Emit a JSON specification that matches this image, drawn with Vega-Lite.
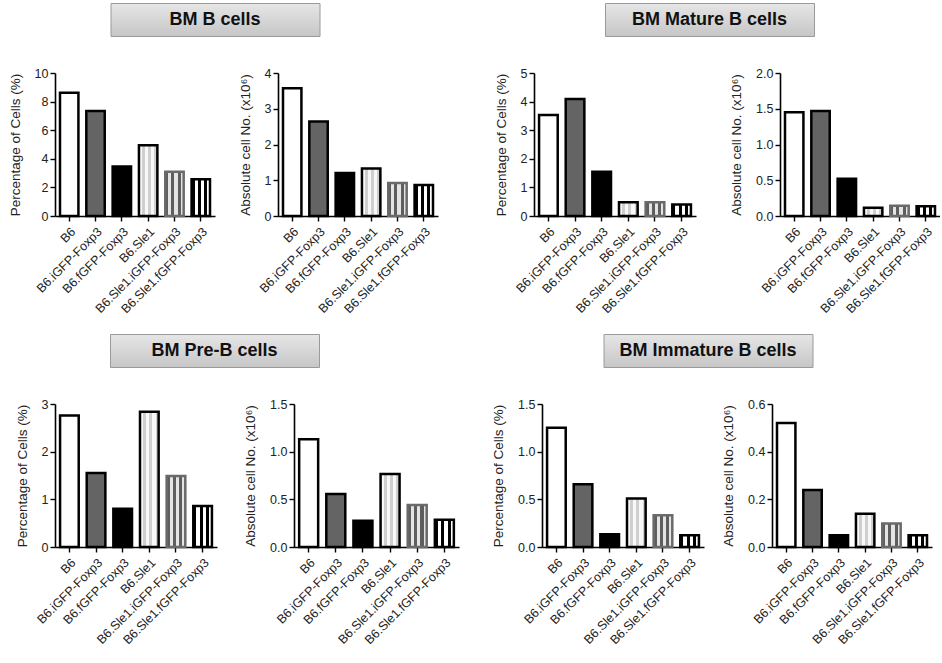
{
  "$schema": "https://vega.github.io/schema/vega-lite/v6.json",
  "padding": {"left": 8, "top": 2, "right": 0, "bottom": 0},
  "background": "white",
  "config": {
    "view": {"stroke": null},
    "font": "Liberation Sans",
    "axis": {"grid": false, "domainColor": "#000", "domainWidth": 1.6, "tickColor": "#000", "tickWidth": 1.4, "tickSize": 5, "labelFont": "Liberation Sans", "titleFont": "Liberation Sans", "titleFontWeight": "normal", "labelColor": "#222", "titleColor": "#222"},
    "axisX": {"labelAngle": -45, "labelFontSize": 12.5, "labelPadding": 4, "title": null},
    "axisY": {"labelFontSize": 12.5, "labelPadding": 2, "titleFontSize": 13.5, "titlePadding": 12}
  },
  "datasets": {
    "d": [
      {"panel": "B_pct", "strain": "B6", "value": 8.62},
      {"panel": "B_pct", "strain": "B6.iGFP-Foxp3", "value": 7.35},
      {"panel": "B_pct", "strain": "B6.fGFP-Foxp3", "value": 3.47},
      {"panel": "B_pct", "strain": "B6.Sle1", "value": 4.95},
      {"panel": "B_pct", "strain": "B6.Sle1.iGFP-Foxp3", "value": 3.1},
      {"panel": "B_pct", "strain": "B6.Sle1.fGFP-Foxp3", "value": 2.57},
      {"panel": "B_abs", "strain": "B6", "value": 3.57},
      {"panel": "B_abs", "strain": "B6.iGFP-Foxp3", "value": 2.64},
      {"panel": "B_abs", "strain": "B6.fGFP-Foxp3", "value": 1.2},
      {"panel": "B_abs", "strain": "B6.Sle1", "value": 1.33},
      {"panel": "B_abs", "strain": "B6.Sle1.iGFP-Foxp3", "value": 0.92},
      {"panel": "B_abs", "strain": "B6.Sle1.fGFP-Foxp3", "value": 0.87},
      {"panel": "Mat_pct", "strain": "B6", "value": 3.53},
      {"panel": "Mat_pct", "strain": "B6.iGFP-Foxp3", "value": 4.09},
      {"panel": "Mat_pct", "strain": "B6.fGFP-Foxp3", "value": 1.55},
      {"panel": "Mat_pct", "strain": "B6.Sle1", "value": 0.48},
      {"panel": "Mat_pct", "strain": "B6.Sle1.iGFP-Foxp3", "value": 0.48},
      {"panel": "Mat_pct", "strain": "B6.Sle1.fGFP-Foxp3", "value": 0.4},
      {"panel": "Mat_abs", "strain": "B6", "value": 1.45},
      {"panel": "Mat_abs", "strain": "B6.iGFP-Foxp3", "value": 1.47},
      {"panel": "Mat_abs", "strain": "B6.fGFP-Foxp3", "value": 0.52},
      {"panel": "Mat_abs", "strain": "B6.Sle1", "value": 0.115},
      {"panel": "Mat_abs", "strain": "B6.Sle1.iGFP-Foxp3", "value": 0.145},
      {"panel": "Mat_abs", "strain": "B6.Sle1.fGFP-Foxp3", "value": 0.135},
      {"panel": "Pre_pct", "strain": "B6", "value": 2.76},
      {"panel": "Pre_pct", "strain": "B6.iGFP-Foxp3", "value": 1.55},
      {"panel": "Pre_pct", "strain": "B6.fGFP-Foxp3", "value": 0.8},
      {"panel": "Pre_pct", "strain": "B6.Sle1", "value": 2.84},
      {"panel": "Pre_pct", "strain": "B6.Sle1.iGFP-Foxp3", "value": 1.49},
      {"panel": "Pre_pct", "strain": "B6.Sle1.fGFP-Foxp3", "value": 0.86},
      {"panel": "Pre_abs", "strain": "B6", "value": 1.13},
      {"panel": "Pre_abs", "strain": "B6.iGFP-Foxp3", "value": 0.555},
      {"panel": "Pre_abs", "strain": "B6.fGFP-Foxp3", "value": 0.275},
      {"panel": "Pre_abs", "strain": "B6.Sle1", "value": 0.765},
      {"panel": "Pre_abs", "strain": "B6.Sle1.iGFP-Foxp3", "value": 0.44},
      {"panel": "Pre_abs", "strain": "B6.Sle1.fGFP-Foxp3", "value": 0.285},
      {"panel": "Imm_pct", "strain": "B6", "value": 1.25},
      {"panel": "Imm_pct", "strain": "B6.iGFP-Foxp3", "value": 0.657},
      {"panel": "Imm_pct", "strain": "B6.fGFP-Foxp3", "value": 0.135},
      {"panel": "Imm_pct", "strain": "B6.Sle1", "value": 0.51},
      {"panel": "Imm_pct", "strain": "B6.Sle1.iGFP-Foxp3", "value": 0.333},
      {"panel": "Imm_pct", "strain": "B6.Sle1.fGFP-Foxp3", "value": 0.124},
      {"panel": "Imm_abs", "strain": "B6", "value": 0.52},
      {"panel": "Imm_abs", "strain": "B6.iGFP-Foxp3", "value": 0.239},
      {"panel": "Imm_abs", "strain": "B6.fGFP-Foxp3", "value": 0.049},
      {"panel": "Imm_abs", "strain": "B6.Sle1", "value": 0.139},
      {"panel": "Imm_abs", "strain": "B6.Sle1.iGFP-Foxp3", "value": 0.099},
      {"panel": "Imm_abs", "strain": "B6.Sle1.fGFP-Foxp3", "value": 0.049}
    ]
  },
  "vconcat": [
    {
      "hconcat": [
        {
          "center": true,
          "spacing": 30,
          "vconcat": [
            {"spacing": 0, "hconcat": [
              {"width": 209, "height": 33, "data": {"values": [{"t": "BM B cells"}]},
               "view": {"stroke": "#9a9a9a", "strokeWidth": 1, "fill": {"gradient": "linear", "x1": 0, "y1": 0, "x2": 0, "y2": 1, "stops": [{"offset": 0, "color": "#e6e6e6"}, {"offset": 1, "color": "#c6c6c6"}]}},
               "mark": {"type": "text", "fontWeight": "bold", "fontSize": 18, "color": "#111", "font": "Liberation Sans"},
               "encoding": {"text": {"field": "t"}}},
              {"width": 62, "height": 33, "data": {"values": [{"t": ""}]}, "mark": {"type": "text"}, "encoding": {"text": {"field": "t"}}}
            ]},
            {
              "spacing": 23,
              "hconcat": [
                {"width": 160, "height": 143, "data": {"name": "d"}, "transform": [{"filter": "datum.panel === 'B_pct'"}],
                 "mark": {"type": "bar", "strokeWidth": 2.5},
                 "encoding": {
                   "x": {"field": "strain", "type": "nominal", "sort": null, "scale": {"paddingInner": 0.3, "paddingOuter": 0.19}},
                   "y": {"field": "value", "type": "quantitative", "scale": {"domain": [0, 10], "nice": false}, "axis": {"title": "Percentage of Cells (%)", "values": [0, 2, 4, 6, 8, 10]}},
                   "fill": {"condition": [
                     {"test": "datum.strain === 'B6'", "value": "#ffffff"},
                     {"test": "datum.strain === 'B6.iGFP-Foxp3'", "value": "#646464"},
                     {"test": "datum.strain === 'B6.fGFP-Foxp3'", "value": "#000000"},
                     {"test": "datum.strain === 'B6.Sle1'", "value": {"gradient": "linear", "x1": 0, "y1": 0, "x2": 1, "y2": 0, "stops": [{"offset": 0, "color": "#f8f8f8"}, {"offset": 0.1667, "color": "#f8f8f8"}, {"offset": 0.1667, "color": "#cfcfcf"}, {"offset": 0.3333, "color": "#cfcfcf"}, {"offset": 0.3333, "color": "#f8f8f8"}, {"offset": 0.5, "color": "#f8f8f8"}, {"offset": 0.5, "color": "#cfcfcf"}, {"offset": 0.6667, "color": "#cfcfcf"}, {"offset": 0.6667, "color": "#f8f8f8"}, {"offset": 0.8333, "color": "#f8f8f8"}, {"offset": 0.8333, "color": "#cfcfcf"}, {"offset": 1, "color": "#cfcfcf"}]}},
                     {"test": "datum.strain === 'B6.Sle1.iGFP-Foxp3'", "value": {"gradient": "linear", "x1": 0, "y1": 0, "x2": 1, "y2": 0, "stops": [{"offset": 0, "color": "#5e5e5e"}, {"offset": 0.1667, "color": "#5e5e5e"}, {"offset": 0.1667, "color": "#e4e4e4"}, {"offset": 0.3333, "color": "#e4e4e4"}, {"offset": 0.3333, "color": "#5e5e5e"}, {"offset": 0.5, "color": "#5e5e5e"}, {"offset": 0.5, "color": "#e4e4e4"}, {"offset": 0.6667, "color": "#e4e4e4"}, {"offset": 0.6667, "color": "#5e5e5e"}, {"offset": 0.8333, "color": "#5e5e5e"}, {"offset": 0.8333, "color": "#e4e4e4"}, {"offset": 1, "color": "#e4e4e4"}]}}
                   ], "value": {"gradient": "linear", "x1": 0, "y1": 0, "x2": 1, "y2": 0, "stops": [{"offset": 0, "color": "#000"}, {"offset": 0.1667, "color": "#000"}, {"offset": 0.1667, "color": "#fff"}, {"offset": 0.3333, "color": "#fff"}, {"offset": 0.3333, "color": "#000"}, {"offset": 0.5, "color": "#000"}, {"offset": 0.5, "color": "#fff"}, {"offset": 0.6667, "color": "#fff"}, {"offset": 0.6667, "color": "#000"}, {"offset": 0.8333, "color": "#000"}, {"offset": 0.8333, "color": "#fff"}, {"offset": 1, "color": "#fff"}]}},
                   "stroke": {"condition": {"test": "datum.strain === 'B6.Sle1.iGFP-Foxp3'", "value": "#6a6a6a"}, "value": "#000000"}
                 }},
                {"width": 160, "height": 143, "data": {"name": "d"}, "transform": [{"filter": "datum.panel === 'B_abs'"}],
                 "mark": {"type": "bar", "strokeWidth": 2.5},
                 "encoding": {
                   "x": {"field": "strain", "type": "nominal", "sort": null, "scale": {"paddingInner": 0.3, "paddingOuter": 0.19}},
                   "y": {"field": "value", "type": "quantitative", "scale": {"domain": [0, 4], "nice": false}, "axis": {"title": "Absolute cell No. (x10⁶)", "values": [0, 1, 2, 3, 4]}},
                   "fill": {"condition": [
                     {"test": "datum.strain === 'B6'", "value": "#ffffff"},
                     {"test": "datum.strain === 'B6.iGFP-Foxp3'", "value": "#646464"},
                     {"test": "datum.strain === 'B6.fGFP-Foxp3'", "value": "#000000"},
                     {"test": "datum.strain === 'B6.Sle1'", "value": {"gradient": "linear", "x1": 0, "y1": 0, "x2": 1, "y2": 0, "stops": [{"offset": 0, "color": "#f8f8f8"}, {"offset": 0.1667, "color": "#f8f8f8"}, {"offset": 0.1667, "color": "#cfcfcf"}, {"offset": 0.3333, "color": "#cfcfcf"}, {"offset": 0.3333, "color": "#f8f8f8"}, {"offset": 0.5, "color": "#f8f8f8"}, {"offset": 0.5, "color": "#cfcfcf"}, {"offset": 0.6667, "color": "#cfcfcf"}, {"offset": 0.6667, "color": "#f8f8f8"}, {"offset": 0.8333, "color": "#f8f8f8"}, {"offset": 0.8333, "color": "#cfcfcf"}, {"offset": 1, "color": "#cfcfcf"}]}},
                     {"test": "datum.strain === 'B6.Sle1.iGFP-Foxp3'", "value": {"gradient": "linear", "x1": 0, "y1": 0, "x2": 1, "y2": 0, "stops": [{"offset": 0, "color": "#5e5e5e"}, {"offset": 0.1667, "color": "#5e5e5e"}, {"offset": 0.1667, "color": "#e4e4e4"}, {"offset": 0.3333, "color": "#e4e4e4"}, {"offset": 0.3333, "color": "#5e5e5e"}, {"offset": 0.5, "color": "#5e5e5e"}, {"offset": 0.5, "color": "#e4e4e4"}, {"offset": 0.6667, "color": "#e4e4e4"}, {"offset": 0.6667, "color": "#5e5e5e"}, {"offset": 0.8333, "color": "#5e5e5e"}, {"offset": 0.8333, "color": "#e4e4e4"}, {"offset": 1, "color": "#e4e4e4"}]}}
                   ], "value": {"gradient": "linear", "x1": 0, "y1": 0, "x2": 1, "y2": 0, "stops": [{"offset": 0, "color": "#000"}, {"offset": 0.1667, "color": "#000"}, {"offset": 0.1667, "color": "#fff"}, {"offset": 0.3333, "color": "#fff"}, {"offset": 0.3333, "color": "#000"}, {"offset": 0.5, "color": "#000"}, {"offset": 0.5, "color": "#fff"}, {"offset": 0.6667, "color": "#fff"}, {"offset": 0.6667, "color": "#000"}, {"offset": 0.8333, "color": "#000"}, {"offset": 0.8333, "color": "#fff"}, {"offset": 1, "color": "#fff"}]}},
                   "stroke": {"condition": {"test": "datum.strain === 'B6.Sle1.iGFP-Foxp3'", "value": "#6a6a6a"}, "value": "#000000"}
                 }}
              ]
            }
          ]
        },
        {
          "center": true,
          "spacing": 30,
          "vconcat": [
            {"spacing": 0, "hconcat": [
              {"width": 209, "height": 33, "data": {"values": [{"t": "BM Mature B cells"}]},
               "view": {"stroke": "#9a9a9a", "strokeWidth": 1, "fill": {"gradient": "linear", "x1": 0, "y1": 0, "x2": 0, "y2": 1, "stops": [{"offset": 0, "color": "#e6e6e6"}, {"offset": 1, "color": "#c6c6c6"}]}},
               "mark": {"type": "text", "fontWeight": "bold", "fontSize": 18, "color": "#111", "font": "Liberation Sans"},
               "encoding": {"text": {"field": "t"}}},
              {"width": 54, "height": 33, "data": {"values": [{"t": ""}]}, "mark": {"type": "text"}, "encoding": {"text": {"field": "t"}}}
            ]},
            {
              "spacing": 33,
              "hconcat": [
                {"width": 162, "height": 143, "data": {"name": "d"}, "transform": [{"filter": "datum.panel === 'Mat_pct'"}],
                 "mark": {"type": "bar", "strokeWidth": 2.5},
                 "encoding": {
                   "x": {"field": "strain", "type": "nominal", "sort": null, "scale": {"paddingInner": 0.3, "paddingOuter": 0.19}},
                   "y": {"field": "value", "type": "quantitative", "scale": {"domain": [0, 5], "nice": false}, "axis": {"title": "Percentage of Cells (%)", "values": [0, 1, 2, 3, 4, 5]}},
                   "fill": {"condition": [
                     {"test": "datum.strain === 'B6'", "value": "#ffffff"},
                     {"test": "datum.strain === 'B6.iGFP-Foxp3'", "value": "#646464"},
                     {"test": "datum.strain === 'B6.fGFP-Foxp3'", "value": "#000000"},
                     {"test": "datum.strain === 'B6.Sle1'", "value": {"gradient": "linear", "x1": 0, "y1": 0, "x2": 1, "y2": 0, "stops": [{"offset": 0, "color": "#f8f8f8"}, {"offset": 0.1667, "color": "#f8f8f8"}, {"offset": 0.1667, "color": "#cfcfcf"}, {"offset": 0.3333, "color": "#cfcfcf"}, {"offset": 0.3333, "color": "#f8f8f8"}, {"offset": 0.5, "color": "#f8f8f8"}, {"offset": 0.5, "color": "#cfcfcf"}, {"offset": 0.6667, "color": "#cfcfcf"}, {"offset": 0.6667, "color": "#f8f8f8"}, {"offset": 0.8333, "color": "#f8f8f8"}, {"offset": 0.8333, "color": "#cfcfcf"}, {"offset": 1, "color": "#cfcfcf"}]}},
                     {"test": "datum.strain === 'B6.Sle1.iGFP-Foxp3'", "value": {"gradient": "linear", "x1": 0, "y1": 0, "x2": 1, "y2": 0, "stops": [{"offset": 0, "color": "#5e5e5e"}, {"offset": 0.1667, "color": "#5e5e5e"}, {"offset": 0.1667, "color": "#e4e4e4"}, {"offset": 0.3333, "color": "#e4e4e4"}, {"offset": 0.3333, "color": "#5e5e5e"}, {"offset": 0.5, "color": "#5e5e5e"}, {"offset": 0.5, "color": "#e4e4e4"}, {"offset": 0.6667, "color": "#e4e4e4"}, {"offset": 0.6667, "color": "#5e5e5e"}, {"offset": 0.8333, "color": "#5e5e5e"}, {"offset": 0.8333, "color": "#e4e4e4"}, {"offset": 1, "color": "#e4e4e4"}]}}
                   ], "value": {"gradient": "linear", "x1": 0, "y1": 0, "x2": 1, "y2": 0, "stops": [{"offset": 0, "color": "#000"}, {"offset": 0.1667, "color": "#000"}, {"offset": 0.1667, "color": "#fff"}, {"offset": 0.3333, "color": "#fff"}, {"offset": 0.3333, "color": "#000"}, {"offset": 0.5, "color": "#000"}, {"offset": 0.5, "color": "#fff"}, {"offset": 0.6667, "color": "#fff"}, {"offset": 0.6667, "color": "#000"}, {"offset": 0.8333, "color": "#000"}, {"offset": 0.8333, "color": "#fff"}, {"offset": 1, "color": "#fff"}]}},
                   "stroke": {"condition": {"test": "datum.strain === 'B6.Sle1.iGFP-Foxp3'", "value": "#6a6a6a"}, "value": "#000000"}
                 }},
                {"width": 160, "height": 143, "data": {"name": "d"}, "transform": [{"filter": "datum.panel === 'Mat_abs'"}],
                 "mark": {"type": "bar", "strokeWidth": 2.5},
                 "encoding": {
                   "x": {"field": "strain", "type": "nominal", "sort": null, "scale": {"paddingInner": 0.3, "paddingOuter": 0.19}},
                   "y": {"field": "value", "type": "quantitative", "scale": {"domain": [0, 2], "nice": false}, "axis": {"title": "Absolute cell No. (x10⁶)", "values": [0, 0.5, 1, 1.5, 2], "format": ".1f"}},
                   "fill": {"condition": [
                     {"test": "datum.strain === 'B6'", "value": "#ffffff"},
                     {"test": "datum.strain === 'B6.iGFP-Foxp3'", "value": "#646464"},
                     {"test": "datum.strain === 'B6.fGFP-Foxp3'", "value": "#000000"},
                     {"test": "datum.strain === 'B6.Sle1'", "value": {"gradient": "linear", "x1": 0, "y1": 0, "x2": 1, "y2": 0, "stops": [{"offset": 0, "color": "#f8f8f8"}, {"offset": 0.1667, "color": "#f8f8f8"}, {"offset": 0.1667, "color": "#cfcfcf"}, {"offset": 0.3333, "color": "#cfcfcf"}, {"offset": 0.3333, "color": "#f8f8f8"}, {"offset": 0.5, "color": "#f8f8f8"}, {"offset": 0.5, "color": "#cfcfcf"}, {"offset": 0.6667, "color": "#cfcfcf"}, {"offset": 0.6667, "color": "#f8f8f8"}, {"offset": 0.8333, "color": "#f8f8f8"}, {"offset": 0.8333, "color": "#cfcfcf"}, {"offset": 1, "color": "#cfcfcf"}]}},
                     {"test": "datum.strain === 'B6.Sle1.iGFP-Foxp3'", "value": {"gradient": "linear", "x1": 0, "y1": 0, "x2": 1, "y2": 0, "stops": [{"offset": 0, "color": "#5e5e5e"}, {"offset": 0.1667, "color": "#5e5e5e"}, {"offset": 0.1667, "color": "#e4e4e4"}, {"offset": 0.3333, "color": "#e4e4e4"}, {"offset": 0.3333, "color": "#5e5e5e"}, {"offset": 0.5, "color": "#5e5e5e"}, {"offset": 0.5, "color": "#e4e4e4"}, {"offset": 0.6667, "color": "#e4e4e4"}, {"offset": 0.6667, "color": "#5e5e5e"}, {"offset": 0.8333, "color": "#5e5e5e"}, {"offset": 0.8333, "color": "#e4e4e4"}, {"offset": 1, "color": "#e4e4e4"}]}}
                   ], "value": {"gradient": "linear", "x1": 0, "y1": 0, "x2": 1, "y2": 0, "stops": [{"offset": 0, "color": "#000"}, {"offset": 0.1667, "color": "#000"}, {"offset": 0.1667, "color": "#fff"}, {"offset": 0.3333, "color": "#fff"}, {"offset": 0.3333, "color": "#000"}, {"offset": 0.5, "color": "#000"}, {"offset": 0.5, "color": "#fff"}, {"offset": 0.6667, "color": "#fff"}, {"offset": 0.6667, "color": "#000"}, {"offset": 0.8333, "color": "#000"}, {"offset": 0.8333, "color": "#fff"}, {"offset": 1, "color": "#fff"}]}},
                   "stroke": {"condition": {"test": "datum.strain === 'B6.Sle1.iGFP-Foxp3'", "value": "#6a6a6a"}, "value": "#000000"}
                 }}
              ]
            }
          ]
        }
      ],
      "spacing": 56
    },
    {
      "hconcat": [
        {
          "center": true,
          "spacing": 30,
          "vconcat": [
            {"spacing": 0, "hconcat": [
              {"width": 209, "height": 33, "data": {"values": [{"t": "BM Pre-B cells"}]},
               "view": {"stroke": "#9a9a9a", "strokeWidth": 1, "fill": {"gradient": "linear", "x1": 0, "y1": 0, "x2": 0, "y2": 1, "stops": [{"offset": 0, "color": "#e6e6e6"}, {"offset": 1, "color": "#c6c6c6"}]}},
               "mark": {"type": "text", "fontWeight": "bold", "fontSize": 18, "color": "#111", "font": "Liberation Sans"},
               "encoding": {"text": {"field": "t"}}},
              {"width": 84, "height": 33, "data": {"values": [{"t": ""}]}, "mark": {"type": "text"}, "encoding": {"text": {"field": "t"}}}
            ]},
            {
              "spacing": 26,
              "hconcat": [
                {"width": 162, "height": 143, "data": {"name": "d"}, "transform": [{"filter": "datum.panel === 'Pre_pct'"}],
                 "mark": {"type": "bar", "strokeWidth": 2.5},
                 "encoding": {
                   "x": {"field": "strain", "type": "nominal", "sort": null, "scale": {"paddingInner": 0.3, "paddingOuter": 0.19}},
                   "y": {"field": "value", "type": "quantitative", "scale": {"domain": [0, 3], "nice": false}, "axis": {"title": "Percentage of Cells (%)", "values": [0, 1, 2, 3]}},
                   "fill": {"condition": [
                     {"test": "datum.strain === 'B6'", "value": "#ffffff"},
                     {"test": "datum.strain === 'B6.iGFP-Foxp3'", "value": "#646464"},
                     {"test": "datum.strain === 'B6.fGFP-Foxp3'", "value": "#000000"},
                     {"test": "datum.strain === 'B6.Sle1'", "value": {"gradient": "linear", "x1": 0, "y1": 0, "x2": 1, "y2": 0, "stops": [{"offset": 0, "color": "#f8f8f8"}, {"offset": 0.1667, "color": "#f8f8f8"}, {"offset": 0.1667, "color": "#cfcfcf"}, {"offset": 0.3333, "color": "#cfcfcf"}, {"offset": 0.3333, "color": "#f8f8f8"}, {"offset": 0.5, "color": "#f8f8f8"}, {"offset": 0.5, "color": "#cfcfcf"}, {"offset": 0.6667, "color": "#cfcfcf"}, {"offset": 0.6667, "color": "#f8f8f8"}, {"offset": 0.8333, "color": "#f8f8f8"}, {"offset": 0.8333, "color": "#cfcfcf"}, {"offset": 1, "color": "#cfcfcf"}]}},
                     {"test": "datum.strain === 'B6.Sle1.iGFP-Foxp3'", "value": {"gradient": "linear", "x1": 0, "y1": 0, "x2": 1, "y2": 0, "stops": [{"offset": 0, "color": "#5e5e5e"}, {"offset": 0.1667, "color": "#5e5e5e"}, {"offset": 0.1667, "color": "#e4e4e4"}, {"offset": 0.3333, "color": "#e4e4e4"}, {"offset": 0.3333, "color": "#5e5e5e"}, {"offset": 0.5, "color": "#5e5e5e"}, {"offset": 0.5, "color": "#e4e4e4"}, {"offset": 0.6667, "color": "#e4e4e4"}, {"offset": 0.6667, "color": "#5e5e5e"}, {"offset": 0.8333, "color": "#5e5e5e"}, {"offset": 0.8333, "color": "#e4e4e4"}, {"offset": 1, "color": "#e4e4e4"}]}}
                   ], "value": {"gradient": "linear", "x1": 0, "y1": 0, "x2": 1, "y2": 0, "stops": [{"offset": 0, "color": "#000"}, {"offset": 0.1667, "color": "#000"}, {"offset": 0.1667, "color": "#fff"}, {"offset": 0.3333, "color": "#fff"}, {"offset": 0.3333, "color": "#000"}, {"offset": 0.5, "color": "#000"}, {"offset": 0.5, "color": "#fff"}, {"offset": 0.6667, "color": "#fff"}, {"offset": 0.6667, "color": "#000"}, {"offset": 0.8333, "color": "#000"}, {"offset": 0.8333, "color": "#fff"}, {"offset": 1, "color": "#fff"}]}},
                   "stroke": {"condition": {"test": "datum.strain === 'B6.Sle1.iGFP-Foxp3'", "value": "#6a6a6a"}, "value": "#000000"}
                 }},
                {"width": 165, "height": 143, "data": {"name": "d"}, "transform": [{"filter": "datum.panel === 'Pre_abs'"}],
                 "mark": {"type": "bar", "strokeWidth": 2.5},
                 "encoding": {
                   "x": {"field": "strain", "type": "nominal", "sort": null, "scale": {"paddingInner": 0.3, "paddingOuter": 0.19}},
                   "y": {"field": "value", "type": "quantitative", "scale": {"domain": [0, 1.5], "nice": false}, "axis": {"title": "Absolute cell No. (x10⁶)", "values": [0, 0.5, 1, 1.5], "format": ".1f"}},
                   "fill": {"condition": [
                     {"test": "datum.strain === 'B6'", "value": "#ffffff"},
                     {"test": "datum.strain === 'B6.iGFP-Foxp3'", "value": "#646464"},
                     {"test": "datum.strain === 'B6.fGFP-Foxp3'", "value": "#000000"},
                     {"test": "datum.strain === 'B6.Sle1'", "value": {"gradient": "linear", "x1": 0, "y1": 0, "x2": 1, "y2": 0, "stops": [{"offset": 0, "color": "#f8f8f8"}, {"offset": 0.1667, "color": "#f8f8f8"}, {"offset": 0.1667, "color": "#cfcfcf"}, {"offset": 0.3333, "color": "#cfcfcf"}, {"offset": 0.3333, "color": "#f8f8f8"}, {"offset": 0.5, "color": "#f8f8f8"}, {"offset": 0.5, "color": "#cfcfcf"}, {"offset": 0.6667, "color": "#cfcfcf"}, {"offset": 0.6667, "color": "#f8f8f8"}, {"offset": 0.8333, "color": "#f8f8f8"}, {"offset": 0.8333, "color": "#cfcfcf"}, {"offset": 1, "color": "#cfcfcf"}]}},
                     {"test": "datum.strain === 'B6.Sle1.iGFP-Foxp3'", "value": {"gradient": "linear", "x1": 0, "y1": 0, "x2": 1, "y2": 0, "stops": [{"offset": 0, "color": "#5e5e5e"}, {"offset": 0.1667, "color": "#5e5e5e"}, {"offset": 0.1667, "color": "#e4e4e4"}, {"offset": 0.3333, "color": "#e4e4e4"}, {"offset": 0.3333, "color": "#5e5e5e"}, {"offset": 0.5, "color": "#5e5e5e"}, {"offset": 0.5, "color": "#e4e4e4"}, {"offset": 0.6667, "color": "#e4e4e4"}, {"offset": 0.6667, "color": "#5e5e5e"}, {"offset": 0.8333, "color": "#5e5e5e"}, {"offset": 0.8333, "color": "#e4e4e4"}, {"offset": 1, "color": "#e4e4e4"}]}}
                   ], "value": {"gradient": "linear", "x1": 0, "y1": 0, "x2": 1, "y2": 0, "stops": [{"offset": 0, "color": "#000"}, {"offset": 0.1667, "color": "#000"}, {"offset": 0.1667, "color": "#fff"}, {"offset": 0.3333, "color": "#fff"}, {"offset": 0.3333, "color": "#000"}, {"offset": 0.5, "color": "#000"}, {"offset": 0.5, "color": "#fff"}, {"offset": 0.6667, "color": "#fff"}, {"offset": 0.6667, "color": "#000"}, {"offset": 0.8333, "color": "#000"}, {"offset": 0.8333, "color": "#fff"}, {"offset": 1, "color": "#fff"}]}},
                   "stroke": {"condition": {"test": "datum.strain === 'B6.Sle1.iGFP-Foxp3'", "value": "#6a6a6a"}, "value": "#000000"}
                 }}
              ]
            }
          ]
        },
        {
          "center": true,
          "spacing": 30,
          "vconcat": [
            {"spacing": 0, "hconcat": [
              {"width": 209, "height": 33, "data": {"values": [{"t": "BM Immature B cells"}]},
               "view": {"stroke": "#9a9a9a", "strokeWidth": 1, "fill": {"gradient": "linear", "x1": 0, "y1": 0, "x2": 0, "y2": 1, "stops": [{"offset": 0, "color": "#e6e6e6"}, {"offset": 1, "color": "#c6c6c6"}]}},
               "mark": {"type": "text", "fontWeight": "bold", "fontSize": 18, "color": "#111", "font": "Liberation Sans"},
               "encoding": {"text": {"field": "t"}}},
              {"width": 57, "height": 33, "data": {"values": [{"t": ""}]}, "mark": {"type": "text"}, "encoding": {"text": {"field": "t"}}}
            ]},
            {
              "spacing": 17,
              "hconcat": [
                {"width": 162, "height": 143, "data": {"name": "d"}, "transform": [{"filter": "datum.panel === 'Imm_pct'"}],
                 "mark": {"type": "bar", "strokeWidth": 2.5},
                 "encoding": {
                   "x": {"field": "strain", "type": "nominal", "sort": null, "scale": {"paddingInner": 0.3, "paddingOuter": 0.19}},
                   "y": {"field": "value", "type": "quantitative", "scale": {"domain": [0, 1.5], "nice": false}, "axis": {"title": "Percentage of Cells (%)", "values": [0, 0.5, 1, 1.5], "format": ".1f"}},
                   "fill": {"condition": [
                     {"test": "datum.strain === 'B6'", "value": "#ffffff"},
                     {"test": "datum.strain === 'B6.iGFP-Foxp3'", "value": "#646464"},
                     {"test": "datum.strain === 'B6.fGFP-Foxp3'", "value": "#000000"},
                     {"test": "datum.strain === 'B6.Sle1'", "value": {"gradient": "linear", "x1": 0, "y1": 0, "x2": 1, "y2": 0, "stops": [{"offset": 0, "color": "#f8f8f8"}, {"offset": 0.1667, "color": "#f8f8f8"}, {"offset": 0.1667, "color": "#cfcfcf"}, {"offset": 0.3333, "color": "#cfcfcf"}, {"offset": 0.3333, "color": "#f8f8f8"}, {"offset": 0.5, "color": "#f8f8f8"}, {"offset": 0.5, "color": "#cfcfcf"}, {"offset": 0.6667, "color": "#cfcfcf"}, {"offset": 0.6667, "color": "#f8f8f8"}, {"offset": 0.8333, "color": "#f8f8f8"}, {"offset": 0.8333, "color": "#cfcfcf"}, {"offset": 1, "color": "#cfcfcf"}]}},
                     {"test": "datum.strain === 'B6.Sle1.iGFP-Foxp3'", "value": {"gradient": "linear", "x1": 0, "y1": 0, "x2": 1, "y2": 0, "stops": [{"offset": 0, "color": "#5e5e5e"}, {"offset": 0.1667, "color": "#5e5e5e"}, {"offset": 0.1667, "color": "#e4e4e4"}, {"offset": 0.3333, "color": "#e4e4e4"}, {"offset": 0.3333, "color": "#5e5e5e"}, {"offset": 0.5, "color": "#5e5e5e"}, {"offset": 0.5, "color": "#e4e4e4"}, {"offset": 0.6667, "color": "#e4e4e4"}, {"offset": 0.6667, "color": "#5e5e5e"}, {"offset": 0.8333, "color": "#5e5e5e"}, {"offset": 0.8333, "color": "#e4e4e4"}, {"offset": 1, "color": "#e4e4e4"}]}}
                   ], "value": {"gradient": "linear", "x1": 0, "y1": 0, "x2": 1, "y2": 0, "stops": [{"offset": 0, "color": "#000"}, {"offset": 0.1667, "color": "#000"}, {"offset": 0.1667, "color": "#fff"}, {"offset": 0.3333, "color": "#fff"}, {"offset": 0.3333, "color": "#000"}, {"offset": 0.5, "color": "#000"}, {"offset": 0.5, "color": "#fff"}, {"offset": 0.6667, "color": "#fff"}, {"offset": 0.6667, "color": "#000"}, {"offset": 0.8333, "color": "#000"}, {"offset": 0.8333, "color": "#fff"}, {"offset": 1, "color": "#fff"}]}},
                   "stroke": {"condition": {"test": "datum.strain === 'B6.Sle1.iGFP-Foxp3'", "value": "#6a6a6a"}, "value": "#000000"}
                 }},
                {"width": 160, "height": 143, "data": {"name": "d"}, "transform": [{"filter": "datum.panel === 'Imm_abs'"}],
                 "mark": {"type": "bar", "strokeWidth": 2.5},
                 "encoding": {
                   "x": {"field": "strain", "type": "nominal", "sort": null, "scale": {"paddingInner": 0.3, "paddingOuter": 0.19}},
                   "y": {"field": "value", "type": "quantitative", "scale": {"domain": [0, 0.6], "nice": false}, "axis": {"title": "Absolute cell No. (x10⁶)", "values": [0, 0.2, 0.4, 0.6], "format": ".1f"}},
                   "fill": {"condition": [
                     {"test": "datum.strain === 'B6'", "value": "#ffffff"},
                     {"test": "datum.strain === 'B6.iGFP-Foxp3'", "value": "#646464"},
                     {"test": "datum.strain === 'B6.fGFP-Foxp3'", "value": "#000000"},
                     {"test": "datum.strain === 'B6.Sle1'", "value": {"gradient": "linear", "x1": 0, "y1": 0, "x2": 1, "y2": 0, "stops": [{"offset": 0, "color": "#f8f8f8"}, {"offset": 0.1667, "color": "#f8f8f8"}, {"offset": 0.1667, "color": "#cfcfcf"}, {"offset": 0.3333, "color": "#cfcfcf"}, {"offset": 0.3333, "color": "#f8f8f8"}, {"offset": 0.5, "color": "#f8f8f8"}, {"offset": 0.5, "color": "#cfcfcf"}, {"offset": 0.6667, "color": "#cfcfcf"}, {"offset": 0.6667, "color": "#f8f8f8"}, {"offset": 0.8333, "color": "#f8f8f8"}, {"offset": 0.8333, "color": "#cfcfcf"}, {"offset": 1, "color": "#cfcfcf"}]}},
                     {"test": "datum.strain === 'B6.Sle1.iGFP-Foxp3'", "value": {"gradient": "linear", "x1": 0, "y1": 0, "x2": 1, "y2": 0, "stops": [{"offset": 0, "color": "#5e5e5e"}, {"offset": 0.1667, "color": "#5e5e5e"}, {"offset": 0.1667, "color": "#e4e4e4"}, {"offset": 0.3333, "color": "#e4e4e4"}, {"offset": 0.3333, "color": "#5e5e5e"}, {"offset": 0.5, "color": "#5e5e5e"}, {"offset": 0.5, "color": "#e4e4e4"}, {"offset": 0.6667, "color": "#e4e4e4"}, {"offset": 0.6667, "color": "#5e5e5e"}, {"offset": 0.8333, "color": "#5e5e5e"}, {"offset": 0.8333, "color": "#e4e4e4"}, {"offset": 1, "color": "#e4e4e4"}]}}
                   ], "value": {"gradient": "linear", "x1": 0, "y1": 0, "x2": 1, "y2": 0, "stops": [{"offset": 0, "color": "#000"}, {"offset": 0.1667, "color": "#000"}, {"offset": 0.1667, "color": "#fff"}, {"offset": 0.3333, "color": "#fff"}, {"offset": 0.3333, "color": "#000"}, {"offset": 0.5, "color": "#000"}, {"offset": 0.5, "color": "#fff"}, {"offset": 0.6667, "color": "#fff"}, {"offset": 0.6667, "color": "#000"}, {"offset": 0.8333, "color": "#000"}, {"offset": 0.8333, "color": "#fff"}, {"offset": 1, "color": "#fff"}]}},
                   "stroke": {"condition": {"test": "datum.strain === 'B6.Sle1.iGFP-Foxp3'", "value": "#6a6a6a"}, "value": "#000000"}
                 }}
              ]
            }
          ]
        }
      ],
      "spacing": 32
    }
  ],
  "spacing": 17
}
